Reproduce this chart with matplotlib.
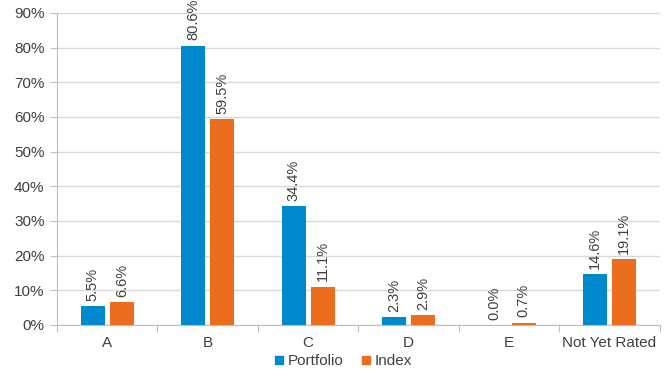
import numpy as np
import matplotlib
matplotlib.use("Agg")
import matplotlib.pyplot as plt

categories = ["A", "B", "C", "D", "E", "Not Yet Rated"]
portfolio = [5.5, 80.6, 34.4, 2.3, 0.0, 14.6]
index = [6.6, 59.5, 11.1, 2.9, 0.7, 19.1]

plt.rcParams['font.family'] = ['Liberation Sans', 'DejaVu Sans']
plt.rcParams['font.size'] = 11

blue = "#0088CC"
orange = "#EA6E1E"
txt = "#404040"
axcol = "#BFBFBF"

fig = plt.figure(figsize=(6.66, 3.71), dpi=100)
ax = fig.add_axes([0.0856, 0.124, 0.905, 0.841])

x = np.arange(len(categories))
w = 0.24
b1 = ax.bar(x - 0.145, portfolio, w, color=blue, label="Portfolio", zorder=3)
b2 = ax.bar(x + 0.145, index, w, color=orange, label="Index", zorder=3)

for bars, vals in ((b1, portfolio), (b2, index)):
    for r, v in zip(bars, vals):
        ax.text(r.get_x() + r.get_width() / 2, v + 1.5, f"{v:.1f}%",
                rotation=90, ha="center", va="bottom", color=txt, fontsize=10.5)

ax.set_xlim(-0.5, len(categories) - 0.5)
ax.set_ylim(0, 90)
ax.set_yticks(np.arange(0, 91, 10))
ax.set_yticklabels([f"{t}%" for t in range(0, 91, 10)])
ax.yaxis.grid(True, color="#D9D9D9", linewidth=1, zorder=0)

ax.set_xticks(np.arange(-0.5, len(categories), 1))
ax.set_xticklabels([])
ax.set_xticks(x, minor=True)
ax.set_xticklabels(categories, minor=True)
ax.tick_params(axis="x", which="major", length=5, color=axcol, direction="out")
ax.tick_params(axis="x", which="minor", length=0, pad=8, colors=txt)
ax.tick_params(axis="y", length=5, color=axcol, colors=txt, pad=4)
for lab in ax.get_yticklabels():
    lab.set_color(txt)

for s in ("top", "right"):
    ax.spines[s].set_visible(False)
ax.spines["left"].set_color(axcol)
ax.spines["bottom"].set_color(axcol)

handles = [plt.Line2D([], [], marker="s", linestyle="", markersize=6, color=blue),
           plt.Line2D([], [], marker="s", linestyle="", markersize=6, color=orange)]
fig.legend(handles, ["Portfolio", "Index"], loc="lower center",
           bbox_to_anchor=(0.515, -0.03), ncol=2, frameon=False,
           handlelength=0.6, handletextpad=0.25, columnspacing=1.2,
           labelcolor=txt, fontsize=11)

fig.savefig("out.png", dpi=100)
